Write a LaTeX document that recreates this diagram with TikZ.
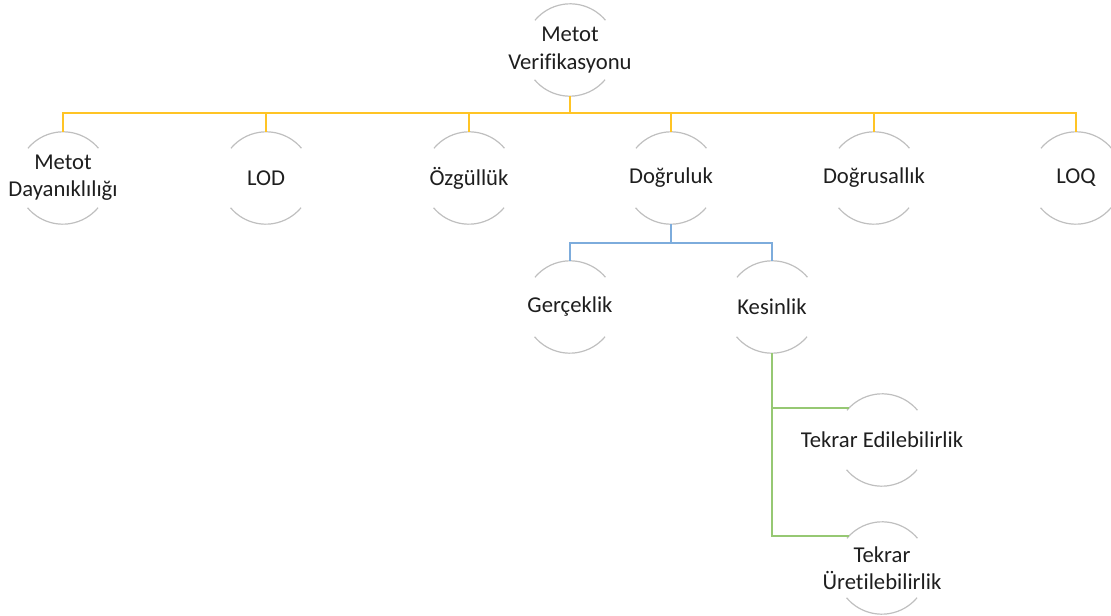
\documentclass[tikz,border=0pt]{standalone}
\usepackage{fontspec}
\setmainfont{Carlito}[Renderer=OpenType,RawFeature={-liga;-dlig;-clig;-calt;-rlig}]
\definecolor{ylw}{RGB}{255,196,37}
\definecolor{blu}{RGB}{125,172,220}
\definecolor{grn}{RGB}{150,200,115}
\definecolor{arcgray}{RGB}{191,191,191}
\definecolor{txt}{RGB}{30,30,30}
\begin{document}
\begin{tikzpicture}[x=0.75pt,y=0.75pt,
  hub/.style={circle,minimum size=69pt,inner sep=0pt,
    label={[text=txt,align=center,inner sep=0pt,font=\fontsize{17pt}{20.5pt}\selectfont]center:#1}},
  rim/.style={draw=arcgray,line width=0.9pt},
  ylwline/.style={draw=ylw,line width=1.5pt},
  bluline/.style={draw=blu,line width=1.5pt},
  grnline/.style={draw=grn,line width=1.5pt}]
\useasboundingbox (0,0) rectangle (1111,-616);
\node[hub={Metot\\Verifikasyonu}] (root) at (570,-50) {};
\node[hub={Metot\\Dayanıklılığı}] (md) at (63,-178) {};
\node[hub={LOD}] (lod) at (266,-178) {};
\node[hub={Özgüllük}] (ozg) at (469,-178) {};
\node[hub={Doğruluk}] (dog) at (671,-178) {};
\node[hub={Doğrusallık}] (dgs) at (874,-178) {};
\node[hub={LOQ}] (loq) at (1076,-178) {};
\node[hub={Gerçeklik}] (ger) at (570,-307) {};
\node[hub={Kesinlik}] (kes) at (772,-307) {};
\node[hub={Tekrar Edilebilirlik}] (te) at (882,-440) {};
\node[hub={Tekrar\\Üretilebilirlik}] (tu) at (882,-568) {};
\foreach \n in {root,md,lod,ozg,dog,dgs,loq,ger,kes,te,tu}{
  \draw[rim] (\n.40) arc[start angle=40,end angle=140,radius=34.5pt];
  \draw[rim] (\n.220) arc[start angle=220,end angle=320,radius=34.5pt];
}
\coordinate (bus) at (570,-113);
\draw[ylwline] (root.south) -- (bus);
\foreach \c in {md,lod,ozg,dog,dgs,loq}{
  \draw[ylwline] (bus) -| (\c.north);
}
\coordinate (bbus) at (671,-243);
\draw[bluline] (dog.south) -- (bbus);
\draw[bluline] (bbus) -| (ger.north);
\draw[bluline] (bbus) -| (kes.north);
\draw[grnline] (kes.south) |- (te.136);
\draw[grnline] (kes.south) |- (tu.136);
\end{tikzpicture}
\end{document}
